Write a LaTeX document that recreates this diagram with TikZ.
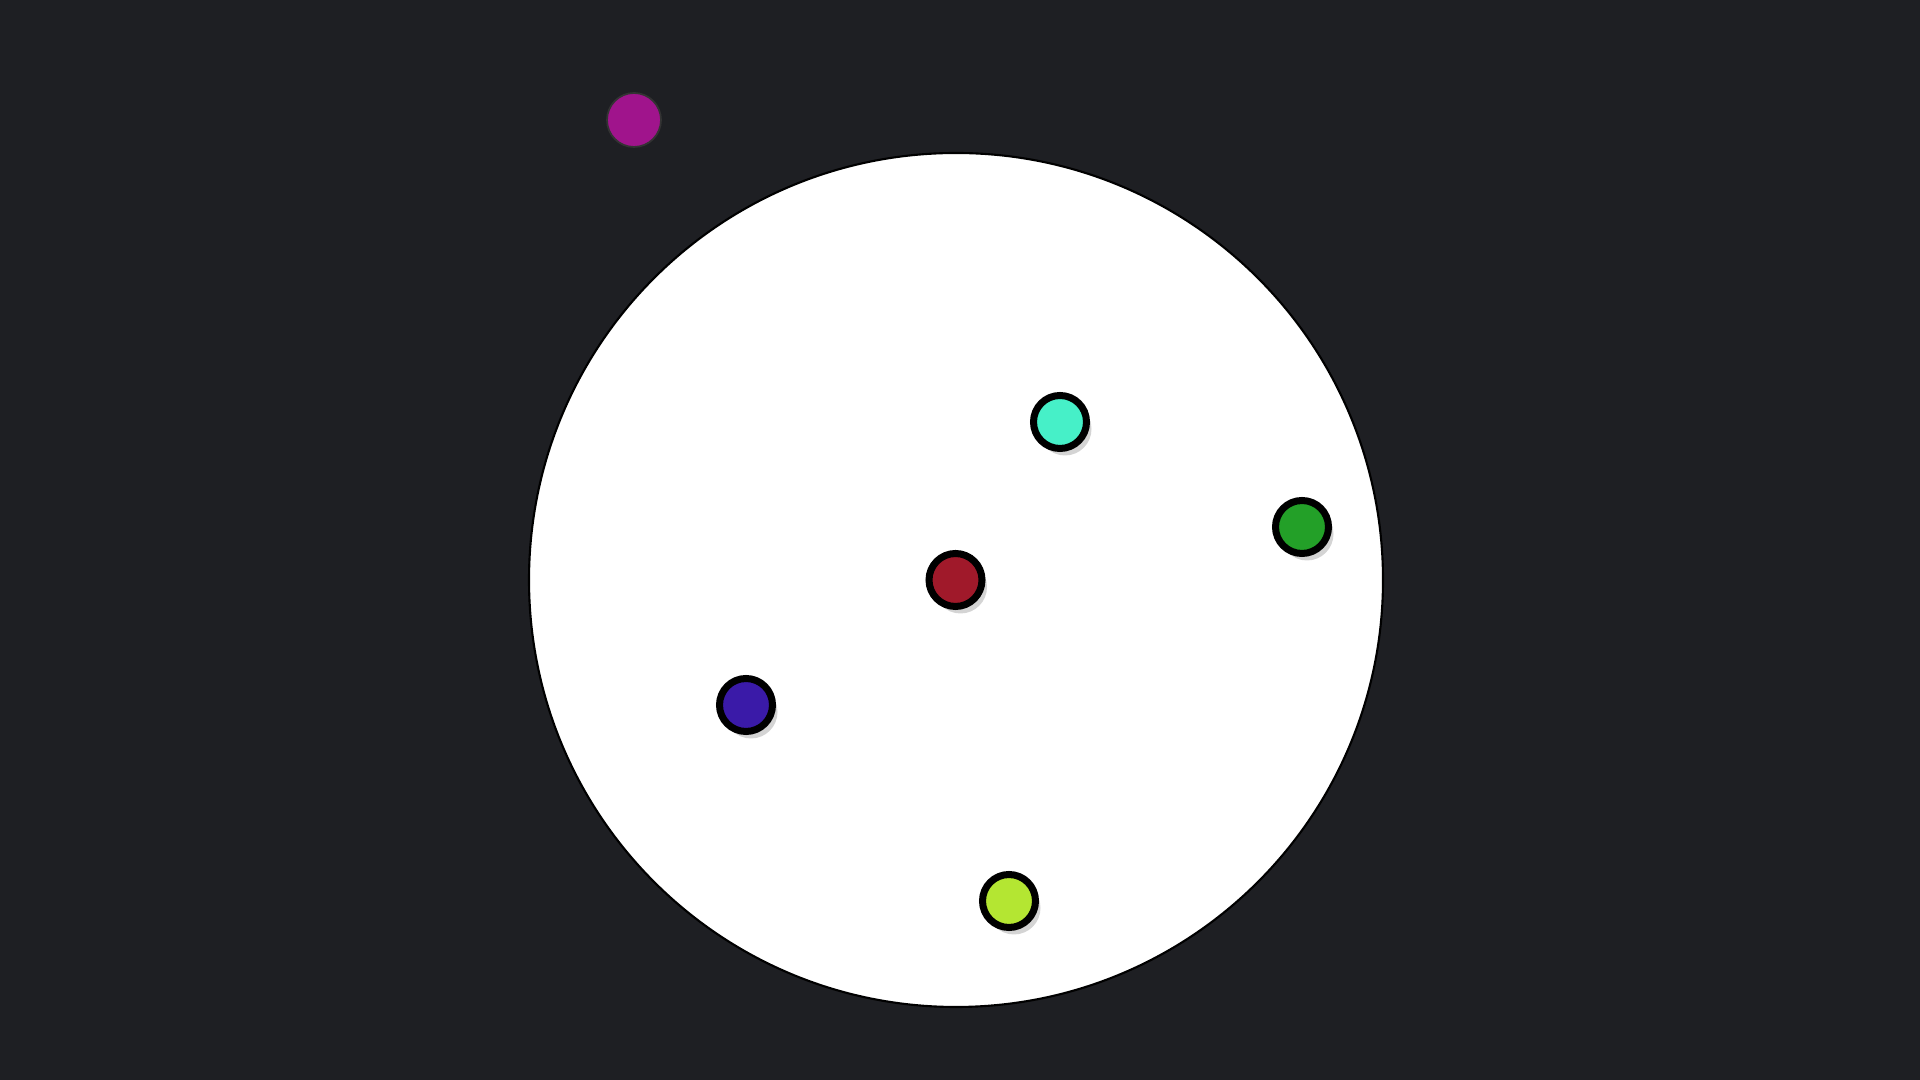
\documentclass[tikz,border=0pt]{standalone}
\usepackage{xcolor}
\usepackage{tikz}
\usetikzlibrary{shadows}

\definecolor{bgdark}{HTML}{1E1F23}
\definecolor{dotmag}{HTML}{A0148C}
\definecolor{dotred}{HTML}{A0192A}
\definecolor{dotcyan}{HTML}{46F0C8}
\definecolor{dotgreen}{HTML}{23A028}
\definecolor{dotblue}{HTML}{3A1AA8}
\definecolor{dotlime}{HTML}{B4E632}

\begin{document}
\begin{tikzpicture}[
    ring/.style={circle, draw=black, line width=0.6pt, fill=white, minimum size=85.4mm, inner sep=0pt},
    dot/.style={circle, draw=black, line width=2pt, minimum size=5.3mm, inner sep=0pt,
                drop shadow={shadow xshift=0.5mm, shadow yshift=-0.7mm, opacity=0.3, fill=black!55}},
    free/.style={circle, draw=black!80, line width=0.5pt, minimum size=5.4mm, inner sep=0pt},
  ]
    \fill[bgdark] (0,0) rectangle (19.2,10.8);
    \useasboundingbox (0,0) rectangle (19.2,10.8);
    \node[ring] (ring) at (9.56, 5.00) {};
    \node[free, fill=dotmag] (pm) at (6.34, 9.60) {};
    \node[dot, fill=dotcyan] (pc) at (10.60, 6.58) {};
    \node[dot, fill=dotgreen] (pg) at (13.02, 5.53) {};
    \node[dot, fill=dotred] (pr) at (9.555, 5.00) {};
    \node[dot, fill=dotblue] (pb) at (7.46, 3.75) {};
    \node[dot, fill=dotlime] (pl) at (10.09, 1.79) {};
  \end{tikzpicture}
\end{document}
